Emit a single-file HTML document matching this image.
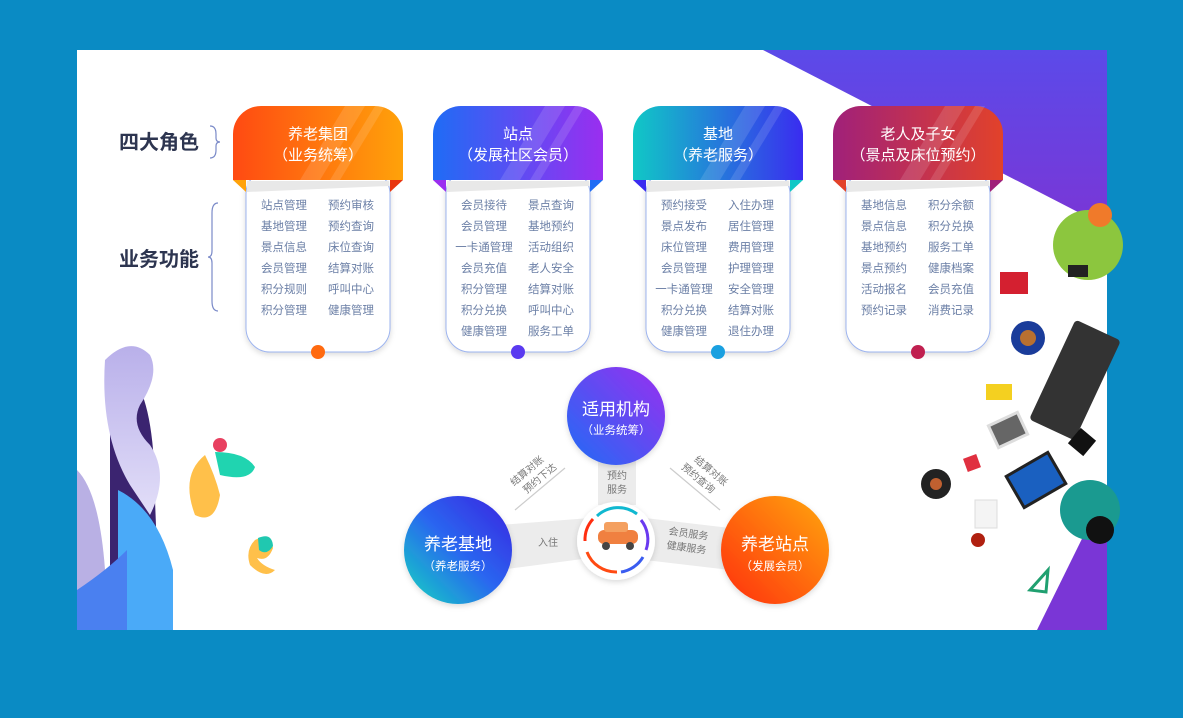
<!DOCTYPE html>
<html><head><meta charset="utf-8"><style>
body{margin:0;width:1183px;height:718px;background:#0a8bc4;overflow:hidden;font-family:"Liberation Sans","Noto Sans CJK SC",sans-serif}
svg{position:absolute;left:0;top:0}
text{font-family:"Liberation Sans","Noto Sans CJK SC",sans-serif}
</style></head><body>
<svg width="1183" height="718" viewBox="0 0 1183 718">
<defs>
<linearGradient id="pu" x1="0" y1="0" x2="0" y2="1"><stop offset="0" stop-color="#5b4ae9"/><stop offset="1" stop-color="#7a36d6"/></linearGradient>
<linearGradient id="g1" x1="0" y1="0" x2="1" y2="0"><stop offset="0" stop-color="#ff4a12"/><stop offset="1" stop-color="#ffa20a"/></linearGradient>
<linearGradient id="g2" x1="0" y1="0" x2="1" y2="0"><stop offset="0" stop-color="#1f6cf5"/><stop offset="1" stop-color="#9a2ef0"/></linearGradient>
<linearGradient id="g3" x1="0" y1="0" x2="1" y2="0"><stop offset="0" stop-color="#10c8c6"/><stop offset="1" stop-color="#3a2cf0"/></linearGradient>
<linearGradient id="g4" x1="0" y1="0" x2="1" y2="0"><stop offset="0" stop-color="#a0207a"/><stop offset="1" stop-color="#e2422a"/></linearGradient>
<linearGradient id="c1" x1="0" y1="1" x2="1" y2="0"><stop offset="0" stop-color="#1f6cf5"/><stop offset="1" stop-color="#9a2ef0"/></linearGradient>
<linearGradient id="c2" x1="0" y1="1" x2="1" y2="0"><stop offset="0" stop-color="#13d6c0"/><stop offset="0.5" stop-color="#2a66f0"/><stop offset="1" stop-color="#3a22e0"/></linearGradient>
<linearGradient id="c3" x1="0" y1="1" x2="1" y2="0"><stop offset="0" stop-color="#ff2e10"/><stop offset="1" stop-color="#ffa70a"/></linearGradient>
<linearGradient id="lv" x1="0" y1="0" x2="0" y2="1"><stop offset="0" stop-color="#b9b0ea"/><stop offset="1" stop-color="#e2def8"/></linearGradient>
<filter id="sh" x="-20%" y="-20%" width="140%" height="140%"><feDropShadow dx="0" dy="2" stdDeviation="3" flood-color="#000" flood-opacity="0.15"/></filter>
</defs>
<rect x="77" y="50" width="1030" height="580" fill="#fff"/>
<polygon points="763,50 1107,50 1107,227" fill="url(#pu)"/>
<polygon points="1037,630 1107,488 1107,630" fill="#7a36d6"/>

<text x="119" y="149" font-size="20" font-weight="bold" fill="#2d3550">四大角色</text>
<path d="M210,126 q6,0 6,8 v4 q0,4 4,4 q-4,0 -4,4 v4 q0,8 -6,8" fill="none" stroke="#7a8ac8" stroke-width="1.2"/>
<text x="119" y="266" font-size="20" font-weight="bold" fill="#2d3550">业务功能</text>
<path d="M218,203 q-6,0 -6,10 v38 q0,6 -4,6 q4,0 4,6 v38 q0,10 6,10" fill="none" stroke="#7a8ac8" stroke-width="1.2"/>

<g>
<rect x="246" y="170" width="144" height="182" rx="24" fill="#fff" stroke="#9db4ef" stroke-width="1" filter="url(#sh)"/>
<polygon points="233,180 246,180 246,192" fill="#ffa20a"/><polygon points="390,180 403,180 390,192" fill="#e8350e"/>
<path d="M233,180 V134 a28,28 0 0 1 28,-28 H375 a28,28 0 0 1 28,28 V180 Z" fill="url(#g1)"/>
<polygon points="247,181 389,181 389,186 247,192" fill="#e8e8e8"/>
<text x="318" y="139" font-size="15" fill="#fff" text-anchor="middle">养老集团</text>
<text x="318" y="160" font-size="15" fill="#fff" text-anchor="middle">（业务统筹）</text>
<circle cx="318" cy="352" r="7" fill="#ff6a10"/>

<rect x="446" y="170" width="144" height="182" rx="24" fill="#fff" stroke="#9db4ef" stroke-width="1" filter="url(#sh)"/>
<polygon points="433,180 446,180 446,192" fill="#9a2ef0"/><polygon points="590,180 603,180 590,192" fill="#1f6cf5"/>
<path d="M433,180 V134 a28,28 0 0 1 28,-28 H575 a28,28 0 0 1 28,28 V180 Z" fill="url(#g2)"/>
<polygon points="447,181 589,181 589,186 447,192" fill="#e8e8e8"/>
<text x="518" y="139" font-size="15" fill="#fff" text-anchor="middle">站点</text>
<text x="518" y="160" font-size="15" fill="#fff" text-anchor="middle">（发展社区会员）</text>
<circle cx="518" cy="352" r="7" fill="#5a3af0"/>

<rect x="646" y="170" width="144" height="182" rx="24" fill="#fff" stroke="#9db4ef" stroke-width="1" filter="url(#sh)"/>
<polygon points="633,180 646,180 646,192" fill="#3a2cf0"/><polygon points="790,180 803,180 790,192" fill="#10c8c6"/>
<path d="M633,180 V134 a28,28 0 0 1 28,-28 H775 a28,28 0 0 1 28,28 V180 Z" fill="url(#g3)"/>
<polygon points="647,181 789,181 789,186 647,192" fill="#e8e8e8"/>
<text x="718" y="139" font-size="15" fill="#fff" text-anchor="middle">基地</text>
<text x="718" y="160" font-size="15" fill="#fff" text-anchor="middle">（养老服务）</text>
<circle cx="718" cy="352" r="7" fill="#1aa0e0"/>

<rect x="846" y="170" width="144" height="182" rx="24" fill="#fff" stroke="#9db4ef" stroke-width="1" filter="url(#sh)"/>
<polygon points="833,180 846,180 846,192" fill="#e2422a"/><polygon points="990,180 1003,180 990,192" fill="#a0207a"/>
<path d="M833,180 V134 a28,28 0 0 1 28,-28 H975 a28,28 0 0 1 28,28 V180 Z" fill="url(#g4)"/>
<polygon points="847,181 989,181 989,186 847,192" fill="#e8e8e8"/>
<text x="918" y="139" font-size="15" fill="#fff" text-anchor="middle">老人及子女</text>
<text x="918" y="160" font-size="15" fill="#fff" text-anchor="middle">（景点及床位预约）</text>
<circle cx="918" cy="352" r="7" fill="#c02050"/>
</g>
<g fill="#fff" opacity="0.12">
<polygon points="300,180 345,106 365,106 320,180"/><polygon points="330,180 375,106 385,106 340,180"/>
<polygon points="500,180 545,106 565,106 520,180"/><polygon points="530,180 575,106 585,106 540,180"/>
<polygon points="700,180 745,106 765,106 720,180"/><polygon points="730,180 775,106 785,106 740,180"/>
<polygon points="900,180 945,106 965,106 920,180"/><polygon points="930,180 975,106 985,106 940,180"/>
</g>
<g font-size="11.5" fill="#6b7fa6" text-anchor="middle">
<text x="284" y="209">站点管理</text><text x="351" y="209">预约审核</text>
<text x="284" y="230">基地管理</text><text x="351" y="230">预约查询</text>
<text x="284" y="251">景点信息</text><text x="351" y="251">床位查询</text>
<text x="284" y="272">会员管理</text><text x="351" y="272">结算对账</text>
<text x="284" y="293">积分规则</text><text x="351" y="293">呼叫中心</text>
<text x="284" y="314">积分管理</text><text x="351" y="314">健康管理</text>

<text x="484" y="209">会员接待</text><text x="551" y="209">景点查询</text>
<text x="484" y="230">会员管理</text><text x="551" y="230">基地预约</text>
<text x="484" y="251">一卡通管理</text><text x="551" y="251">活动组织</text>
<text x="484" y="272">会员充值</text><text x="551" y="272">老人安全</text>
<text x="484" y="293">积分管理</text><text x="551" y="293">结算对账</text>
<text x="484" y="314">积分兑换</text><text x="551" y="314">呼叫中心</text>
<text x="484" y="335">健康管理</text><text x="551" y="335">服务工单</text>

<text x="684" y="209">预约接受</text><text x="751" y="209">入住办理</text>
<text x="684" y="230">景点发布</text><text x="751" y="230">居住管理</text>
<text x="684" y="251">床位管理</text><text x="751" y="251">费用管理</text>
<text x="684" y="272">会员管理</text><text x="751" y="272">护理管理</text>
<text x="684" y="293">一卡通管理</text><text x="751" y="293">安全管理</text>
<text x="684" y="314">积分兑换</text><text x="751" y="314">结算对账</text>
<text x="684" y="335">健康管理</text><text x="751" y="335">退住办理</text>

<text x="884" y="209">基地信息</text><text x="951" y="209">积分余额</text>
<text x="884" y="230">景点信息</text><text x="951" y="230">积分兑换</text>
<text x="884" y="251">基地预约</text><text x="951" y="251">服务工单</text>
<text x="884" y="272">景点预约</text><text x="951" y="272">健康档案</text>
<text x="884" y="293">活动报名</text><text x="951" y="293">会员充值</text>
<text x="884" y="314">预约记录</text><text x="951" y="314">消费记录</text>
</g>

<polygon points="598,455 636,455 636,505 598,505" fill="#ececec"/>
<polygon points="500,525 590,518 590,558 500,570" fill="#ececec"/>
<polygon points="645,518 730,528 730,570 645,560" fill="#ececec"/>
<text x="617" y="479" font-size="10" fill="#777" text-anchor="middle">预约</text>
<text x="617" y="493" font-size="10" fill="#777" text-anchor="middle">服务</text>
<text x="548" y="546" font-size="10" fill="#777" text-anchor="middle">入住</text>
<text x="688" y="537" font-size="10" fill="#777" text-anchor="middle" transform="rotate(8 688 537)">会员服务</text>
<text x="686" y="551" font-size="10" fill="#777" text-anchor="middle" transform="rotate(8 686 551)">健康服务</text>
<line x1="515" y1="510" x2="565" y2="468" stroke="#ccc" stroke-width="1.2"/>
<line x1="670" y1="468" x2="720" y2="510" stroke="#ccc" stroke-width="1.2"/>
<g transform="rotate(-40 533 478)" font-size="10" fill="#777" text-anchor="middle"><text x="533" y="472">结算对账</text><text x="538" y="486">预约下达</text></g>
<g transform="rotate(40 705 478)" font-size="10" fill="#777" text-anchor="middle"><text x="705" y="472">结算对账</text><text x="700" y="486">预约查询</text></g>

<circle cx="616" cy="416" r="49" fill="url(#c1)" filter="url(#sh)"/>
<text x="616" y="415" font-size="17" fill="#fff" text-anchor="middle">适用机构</text>
<text x="616" y="434" font-size="11.5" fill="#fff" text-anchor="middle">（业务统筹）</text>
<circle cx="458" cy="550" r="54" fill="url(#c2)" filter="url(#sh)"/>
<text x="458" y="550" font-size="17" fill="#fff" text-anchor="middle">养老基地</text>
<text x="458" y="570" font-size="11.5" fill="#fff" text-anchor="middle">（养老服务）</text>
<circle cx="775" cy="550" r="54" fill="url(#c3)" filter="url(#sh)"/>
<text x="775" y="550" font-size="17" fill="#fff" text-anchor="middle">养老站点</text>
<text x="775" y="570" font-size="11.5" fill="#fff" text-anchor="middle">（发展会员）</text>

<circle cx="616" cy="541" r="39" fill="#fff" filter="url(#sh)"/>
<path d="M587,552 a31,31 0 0 0 30,20" fill="none" stroke="#ff4a12" stroke-width="3"/>
<path d="M585,541 a31,31 0 0 1 8,-22" fill="none" stroke="#ff2e10" stroke-width="3"/>
<path d="M597,516 a31,31 0 0 1 40,-2" fill="none" stroke="#10b8d0" stroke-width="3"/>
<path d="M641,520 a31,31 0 0 1 5,30" fill="none" stroke="#6a3af0" stroke-width="3"/>
<path d="M643,557 a31,31 0 0 1 -22,15" fill="none" stroke="#3a5cf0" stroke-width="3"/>
<rect x="598" y="530" width="40" height="14" rx="6" fill="#f08040"/>
<rect x="604" y="522" width="24" height="10" rx="3" fill="#f4a060"/>
<circle cx="606" cy="546" r="4" fill="#444"/><circle cx="630" cy="546" r="4" fill="#444"/>

<path d="M77,630 V470 q30,30 30,160 Z" fill="#b9b0e4"/>
<path d="M110,630 V410 q0,-30 25,-30 q20,30 20,120 L160,630 Z" fill="#3b2470"/>
<path d="M105,360 q25,-25 45,-5 q10,20 -10,50 q-10,20 10,40 q20,30 0,70 l-20,-30 q-30,-50 -25,-125 Z" fill="url(#lv)"/>
<path d="M118,630 V490 q40,20 55,80 V630 Z" fill="#4aaaf8"/>
<path d="M77,630 V590 q30,-20 50,-40 V630 Z" fill="#4a80f0"/>
<path d="M205,455 q-25,20 -10,60 q20,10 25,-20 q-5,-20 -15,-40Z" fill="#ffc04a"/>
<path d="M215,452 q30,0 40,15 q-5,15 -35,8Z" fill="#20d4b0"/>
<circle cx="220" cy="445" r="7" fill="#e84060"/>
<path d="M255,540 q15,-8 18,8 q-5,14 -16,10 q5,8 18,12 q-10,10 -25,-5 q-5,-15 5,-25Z" fill="#ffc04a"/>
<path d="M258,538 q14,-6 15,8 q-6,10 -14,4Z" fill="#20c8b0"/>

<circle cx="1088" cy="245" r="35" fill="#8cc63e"/>
<circle cx="1100" cy="215" r="12" fill="#f07a2a"/>
<rect x="1068" y="265" width="20" height="12" fill="#222"/>
<rect x="1000" y="272" width="28" height="22" fill="#d42030"/>
<circle cx="1028" cy="338" r="17" fill="#1a3c9a"/><circle cx="1028" cy="338" r="8" fill="#b87030"/>
<rect x="1050" y="325" width="50" height="110" rx="4" fill="#333" transform="rotate(25 1075 380)"/>
<rect x="986" y="384" width="26" height="16" fill="#f4d020"/>
<rect x="992" y="418" width="32" height="24" fill="#666" stroke="#ddd" stroke-width="3" transform="rotate(-25 1008 430)"/>
<rect x="1072" y="432" width="20" height="20" fill="#111" transform="rotate(40 1082 442)"/>
<rect x="965" y="456" width="14" height="14" fill="#e03040" transform="rotate(-20 972 463)"/>
<circle cx="936" cy="484" r="15" fill="#222"/><circle cx="936" cy="484" r="6" fill="#c06030"/>
<rect x="1012" y="462" width="48" height="36" fill="#1a60c0" stroke="#222" stroke-width="3" transform="rotate(-30 1036 480)"/>
<circle cx="1090" cy="510" r="30" fill="#1a9a90"/><circle cx="1100" cy="530" r="14" fill="#111"/>
<rect x="975" y="500" width="22" height="28" fill="#f4f4f4" stroke="#ddd"/>
<circle cx="978" cy="540" r="7" fill="#b02010"/>
<polygon points="1030,590 1048,570 1046,592" fill="none" stroke="#20a070" stroke-width="3"/>
</svg>
</body></html>
